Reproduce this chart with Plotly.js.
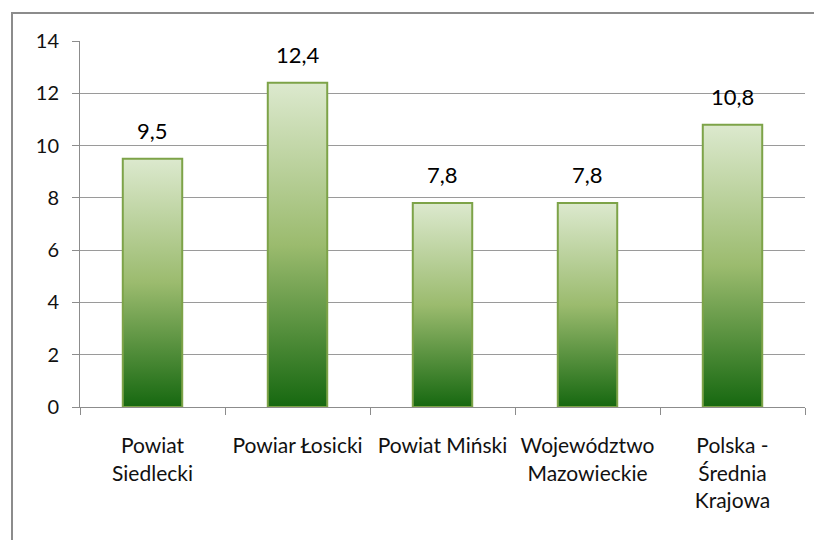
<!DOCTYPE html>
<html>
<head>
<meta charset="utf-8">
<script src="https://cdn.plot.ly/plotly-3.0.1.min.js"></script>
<style>
  html, body { margin: 0; padding: 0; background: #fff; overflow: hidden; }
  #frame { position: absolute; left: 11px; top: 12px; width: 900px; height: 700px; border: 2px solid #8c8c8c; box-sizing: border-box; }
  #chart { position: absolute; left: 0; top: 0; width: 814px; height: 540px; }
</style>
</head>
<body>
<div id="frame"></div>
<div id="chart"></div>
<script>
const categories = ["Powiat<br>Siedlecki", "Powiar Łosicki", "Powiat Miński", "Województwo<br>Mazowieckie", "Polska -<br>Średnia<br>Krajowa"];
const values = [9.5, 12.4, 7.8, 7.8, 10.8];
const valueLabels = ["9,5", "12,4", "7,8", "7,8", "10,8"];
const yTicks = [0, 2, 4, 6, 8, 10, 12, 14];

const BAR_WIDTH = 0.41;
const FONT = "Lato, 'Open Sans', sans-serif";
const positions = categories.map((_, i) => i);

const gradientTraces = values.map((v, i) => {
  const x0 = positions[i] - BAR_WIDTH / 2, x1 = positions[i] + BAR_WIDTH / 2;
  return {
    type: 'scatter', mode: 'lines',
    x: [x0, x1, x1, x0, x0],
    y: [0, 0, v, v, 0],
    fill: 'toself',
    fillgradient: {
      type: 'vertical',
      start: 0, stop: v,
      colorscale: [[0, 'rgb(22,104,16)'], [0.5, 'rgb(155,187,110)'], [1, 'rgb(220,233,206)']]
    },
    line: { color: 'rgb(125,163,72)', width: 2 },
    hoverinfo: 'skip', showlegend: false
  };
});

const annotations = values.map((v, i) => ({
  x: positions[i], y: v, xref: 'x', yref: 'y',
  text: valueLabels[i], showarrow: false,
  xanchor: 'center', yanchor: 'bottom', yshift: 13,
  font: { family: FONT, size: 22, color: '#000' }
}));

const layout = {
  width: 814, height: 540,
  margin: { l: 80, r: 9, t: 41, b: 133 },
  paper_bgcolor: 'rgba(0,0,0,0)', plot_bgcolor: 'rgba(0,0,0,0)',
  font: { family: FONT, size: 20, color: '#000' },
  showlegend: false,
  annotations: annotations,
  xaxis: {
    range: [-0.5, categories.length - 0.5],
    tickmode: 'array', tickvals: positions, ticktext: categories,
    ticks: '', showgrid: false, zeroline: false,
    showline: true, linecolor: '#8c8c8c', linewidth: 1,
    ticklabelstandoff: 20,
    tickfont: { family: FONT, size: 21, color: '#111' },
    minor: { tickmode: 'linear', tick0: -0.5, dtick: 1, ticks: 'outside', ticklen: 7, tickcolor: '#8c8c8c', tickwidth: 1, showgrid: false },
    fixedrange: true
  },
  yaxis: {
    range: [0, 14], tickmode: 'array', tickvals: yTicks,
    ticks: 'outside', ticklen: 7, tickcolor: '#8c8c8c',
    ticklabelstandoff: 9,
    showgrid: true, gridcolor: '#9a9a9a', gridwidth: 1,
    zeroline: false, showline: true, linecolor: '#8c8c8c', linewidth: 1,
    tickfont: { family: FONT, size: 20, color: '#111' },
    fixedrange: true
  }
};

Plotly.newPlot('chart', gradientTraces, layout, { displayModeBar: false, staticPlot: true });
</script>
</body>
</html>
